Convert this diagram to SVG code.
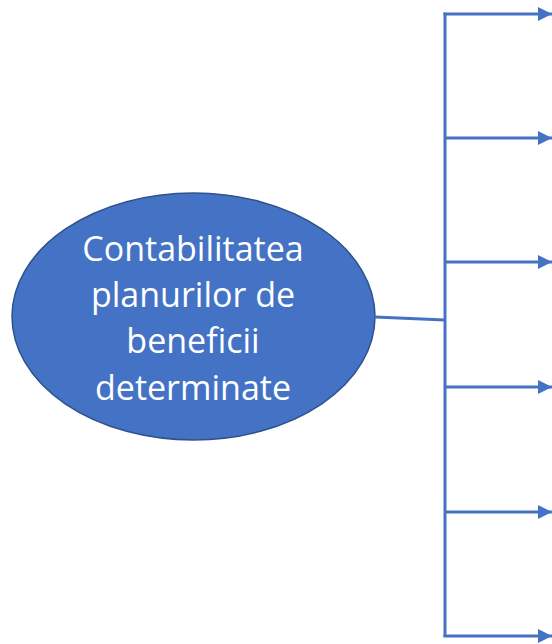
<svg xmlns="http://www.w3.org/2000/svg" width="552" height="644" viewBox="0 0 552 644">
<style>
.c{stroke:#4472C4;stroke-width:3;fill:none}
.t{font-family:"Open Sans","Noto Sans",sans-serif;font-size:34px;fill:#fff;text-anchor:middle}
</style>
<defs>
<marker id="a" markerUnits="userSpaceOnUse" markerWidth="16" markerHeight="14" refX="14" refY="7" orient="auto">
<path d="M0,0 L14,7 L0,14 Z" fill="#4472C4"/>
</marker>
</defs>
<rect width="552" height="644" fill="#fff"/>
<g id="node-main">
<ellipse cx="193.5" cy="316.5" rx="181.5" ry="123.5" fill="#4472C4" stroke="#2F528F" stroke-width="1.5"/>
<text class="t" x="193" y="261">Contabilitatea</text>
<text class="t" x="193" y="307">planurilor de</text>
<text class="t" x="193" y="353">beneficii</text>
<text class="t" x="193" y="400">determinate</text>
</g>
<g id="connectors">
<path class="c" d="M375,317 L445,320"/>
<path class="c" d="M445,12.5 L445,637"/>
<path class="c" d="M443.5,14 L552,14" marker-end="url(#a)"/>
<path class="c" d="M445,138 L552,138" marker-end="url(#a)"/>
<path class="c" d="M445,262 L552,262" marker-end="url(#a)"/>
<path class="c" d="M445,387 L552,387" marker-end="url(#a)"/>
<path class="c" d="M445,512 L552,512" marker-end="url(#a)"/>
<path class="c" d="M443.5,636 L552,636" marker-end="url(#a)"/>
</g>
</svg>
